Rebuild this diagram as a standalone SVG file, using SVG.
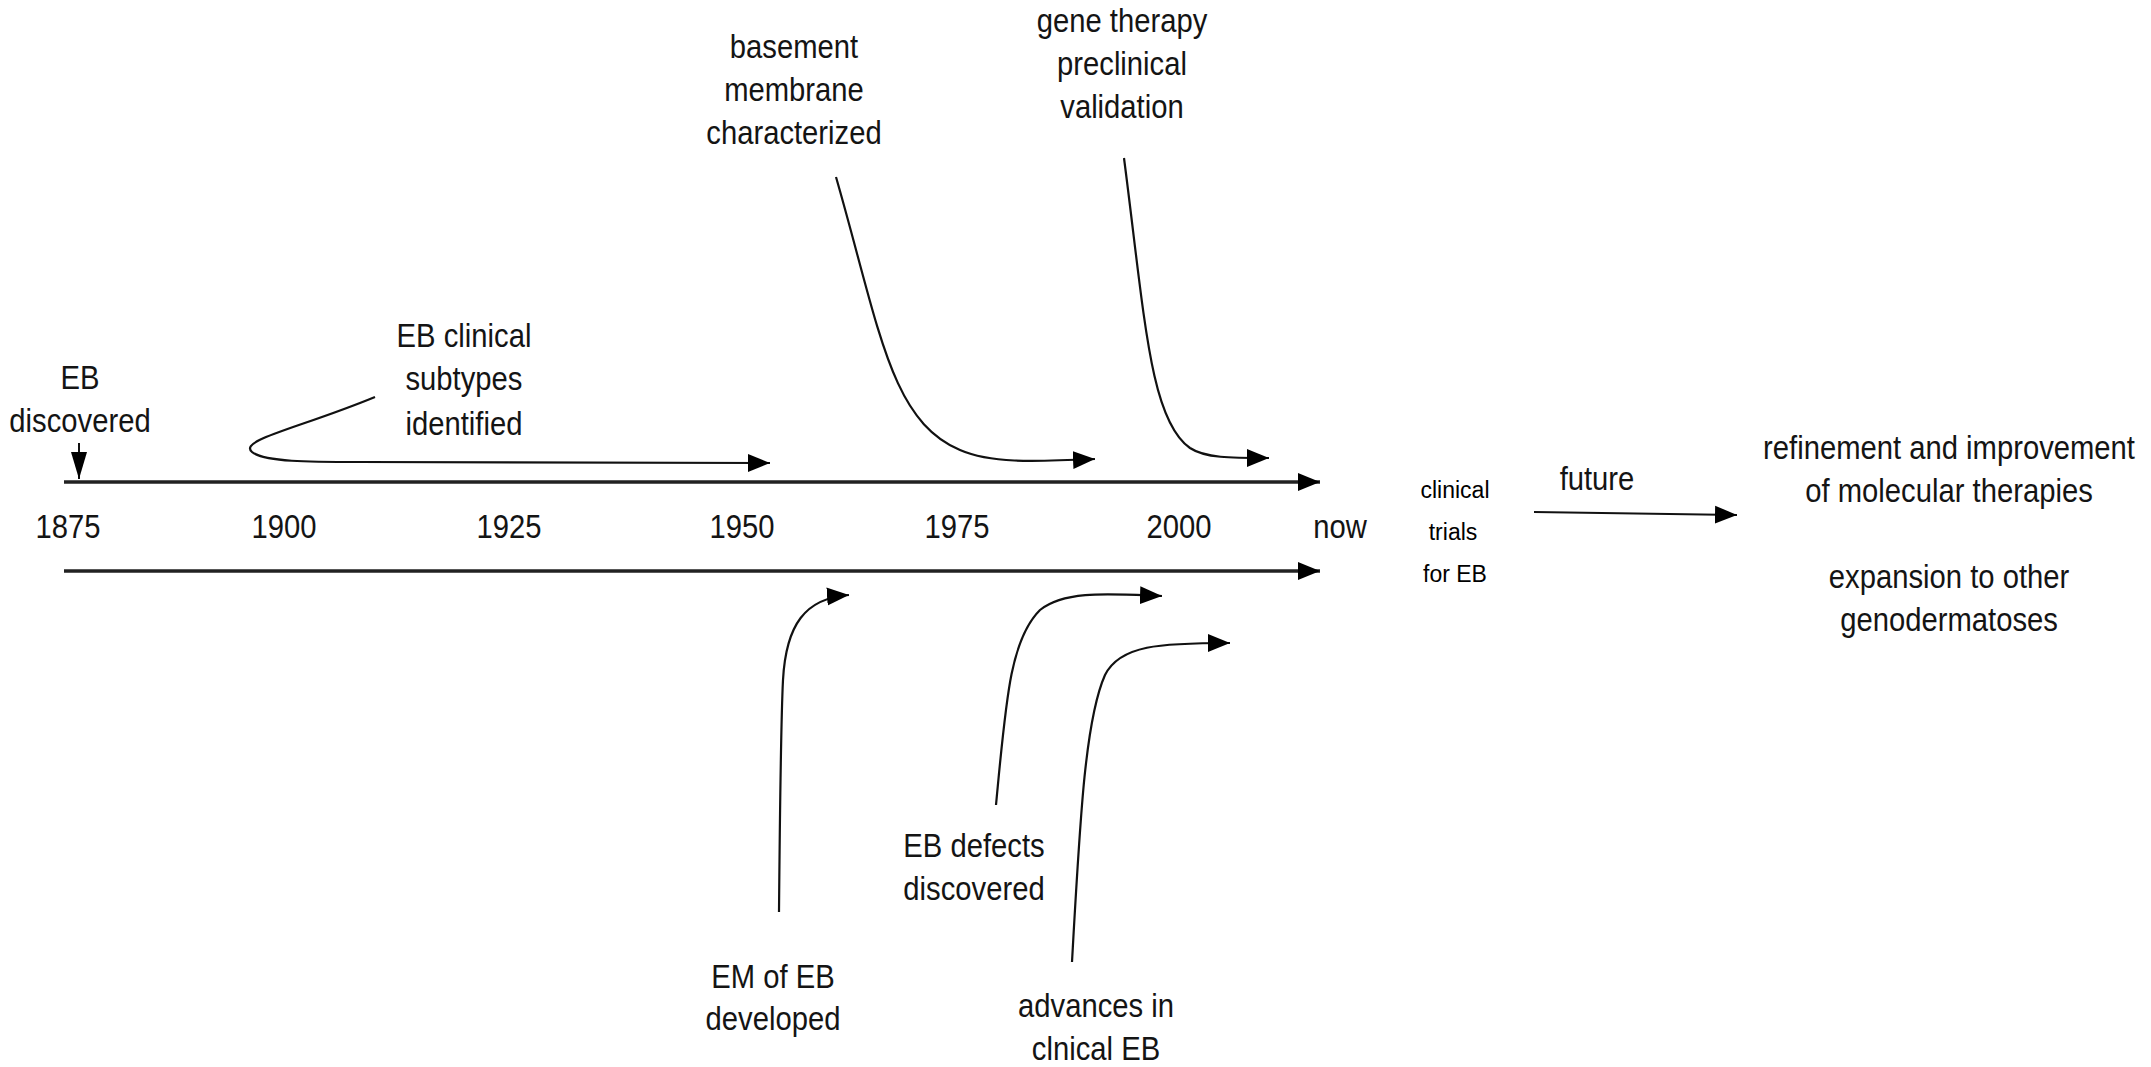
<svg xmlns="http://www.w3.org/2000/svg" width="2151" height="1067" viewBox="0 0 2151 1067">
<style>
.t { font-family: "Liberation Sans", Arial, sans-serif; font-size: 34px; fill: #141414; text-anchor: middle; transform-box: fill-box; transform-origin: center; transform: scaleX(0.86); }
.s { font-family: "Liberation Sans", Arial, sans-serif; font-size: 23px; fill: #000; text-anchor: middle; }
.axis { fill: none; stroke: #222; stroke-width: 3.5; marker-end: url(#ah); }
.c { fill: none; stroke: #111; stroke-width: 2.2; marker-end: url(#ah); }
</style>
<defs>
<marker id="ah" markerUnits="userSpaceOnUse" markerWidth="24" markerHeight="20" refX="22" refY="10" orient="auto">
<path d="M0,1 L22,10 L0,19 z" fill="#000"/>
</marker>
<marker id="ahs" markerUnits="userSpaceOnUse" markerWidth="18" markerHeight="28" refX="9" refY="27" orient="0">
<path d="M1,0 L17,0 L9,27 z" fill="#000"/>
</marker>
</defs>
<rect width="2151" height="1067" fill="#fff"/>

<g id="connectors">
<path class="axis" d="M64,482 L1320,482"/>
<path class="axis" d="M64,571 L1320,571"/>
<path d="M79,443 L79,479" fill="none" stroke="#111" stroke-width="2" marker-end="url(#ahs)"/>
<path class="c" d="M375,397 C300,428 238,440 252,452 C264,462 310,462 360,462 L770,463"/>
<path class="c" d="M836,177 C880,330 890,420 960,450 C990,463 1030,462 1095,459"/>
<path class="c" d="M1124,158 C1145,320 1150,420 1190,448 C1205,458 1230,458 1269,458"/>
<path class="c" d="M779,912 C780,800 781,720 783,680 C786,625 805,598 849,595"/>
<path class="c" d="M996,805 C1006,700 1010,640 1040,610 C1065,590 1110,594 1162,596"/>
<path class="c" d="M1072,962 C1080,820 1085,720 1105,675 C1120,645 1160,643 1230,643"/>
<path class="c" d="M1534,512 L1737,515"/>
</g>

<g id="years">
<text class="t" x="68" y="538">1875</text>
<text class="t" x="284" y="538">1900</text>
<text class="t" x="509" y="538">1925</text>
<text class="t" x="742" y="538">1950</text>
<text class="t" x="957" y="538">1975</text>
<text class="t" x="1179" y="538">2000</text>
<text class="t" x="1340" y="538">now</text>
</g>

<g id="eb-discovered">
<text class="t" x="80" y="389"><tspan x="80" y="389">EB</tspan><tspan x="80" y="432">discovered</tspan></text>
</g>
<g id="eb-subtypes">
<text class="t" x="464" y="347"><tspan x="464" y="347">EB clinical</tspan><tspan x="464" y="390">subtypes</tspan><tspan x="464" y="435">identified</tspan></text>
</g>
<g id="basement">
<text class="t" x="794" y="58"><tspan x="794" y="58">basement</tspan><tspan x="794" y="101">membrane</tspan><tspan x="794" y="144">characterized</tspan></text>
</g>
<g id="gene-therapy">
<text class="t" x="1122" y="32"><tspan x="1122" y="32">gene therapy</tspan><tspan x="1122" y="75">preclinical</tspan><tspan x="1122" y="118">validation</tspan></text>
</g>
<g id="em-of-eb">
<text class="t" x="773" y="988"><tspan x="773" y="988">EM of EB</tspan><tspan x="773" y="1030">developed</tspan></text>
</g>
<g id="eb-defects">
<text class="t" x="974" y="857"><tspan x="974" y="857">EB defects</tspan><tspan x="974" y="900">discovered</tspan></text>
</g>
<g id="advances">
<text class="t" x="1096" y="1017"><tspan x="1096" y="1017">advances in</tspan><tspan x="1096" y="1060">clnical EB</tspan></text>
</g>
<g id="clinical-trials">
<text class="s" x="1455" y="498">clinical</text>
<text class="s" x="1453" y="540">trials</text>
<text class="s" x="1455" y="582">for EB</text>
</g>
<g id="future">
<text class="t" x="1597" y="490">future</text>
</g>
<g id="future-items">
<text class="t" x="1949" y="459"><tspan x="1949" y="459">refinement and improvement</tspan><tspan x="1949" y="502">of molecular therapies</tspan></text>
<text class="t" x="1949" y="588"><tspan x="1949" y="588">expansion to other</tspan><tspan x="1949" y="631">genodermatoses</tspan></text>
</g>
</svg>
